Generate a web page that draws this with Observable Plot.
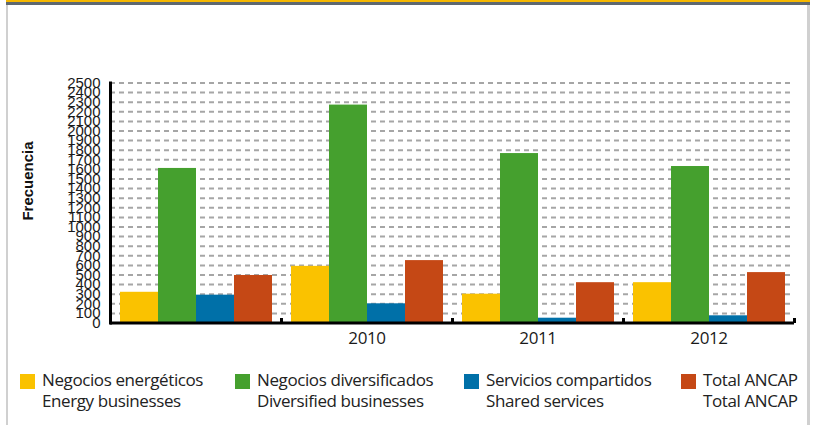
<!DOCTYPE html>
<html>
<head>
<meta charset="utf-8">
<script src="https://cdn.jsdelivr.net/npm/d3@7"></script>
<script src="https://cdn.jsdelivr.net/npm/@observablehq/plot@0.6"></script>
<style>
  html, body { margin: 0; padding: 0; background: #fff; }
  body { width: 814px; height: 425px; position: relative; overflow: hidden; font-family: "Open Sans", "Noto Sans", sans-serif; }
  #frame { position: absolute; left: 6px; top: 0; width: 804px; height: 425px; border-left: 2px solid #d0d0d0; border-right: 3px solid #d0d0d0; box-sizing: border-box; }
  #topgold { position: absolute; left: 6px; top: 0; width: 804px; height: 2px; background: #f6b800; }
  #topgray { position: absolute; left: 6px; top: 2px; width: 804px; height: 3px; background: #5e6870; }
  #chart { position: absolute; left: 0; top: 0; }
  #ytitle { position: absolute; left: 27px; top: 181px; transform: translate(-50%, -50%) rotate(-90deg); font: bold 15px "Liberation Sans", Arial, sans-serif; color: #111; white-space: nowrap; }
  .leg { position: absolute; top: 374px; }
  .leg .sw { position: absolute; left: 0; top: 0; width: 15px; height: 15px; }
  .leg .tx { position: absolute; left: 22px; top: -4px; font-size: 17px; line-height: 20.5px; letter-spacing: -0.4px; color: #222; white-space: nowrap; }
  #chart svg [aria-label="fx-axis tick label"] text { letter-spacing: -0.4px; }
</style>
</head>
<body>
<div id="frame"></div>
<div id="topgold"></div>
<div id="topgray"></div>
<div id="chart"></div>
<div id="ytitle">Frecuencia</div>
<div id="legend"></div>
<script>
// ---- data ----
const groups = ["", "2010", "2011", "2012"];
const seriesEs = ["Negocios energéticos", "Negocios diversificados", "Servicios compartidos", "Total ANCAP"];
const seriesEn = ["Energy businesses", "Diversified businesses", "Shared services", "Total ANCAP"];
const energy      = [320, 590, 300, 420];
const diversified = [1610, 2270, 1765, 1630];
const shared      = [290, 200, 50, 75];
const total       = [495, 650, 420, 525];
const colors = ["#fac200", "#45a02e", "#0070a8", "#c54815"];
const yTicks = [0, 100, 200, 300, 400, 500, 600, 700, 800, 900, 1000, 1100, 1200, 1300, 1400, 1500, 1600, 1700, 1800, 1900, 2000, 2100, 2200, 2300, 2400, 2500];
const gridValues = yTicks.filter(v => v > 0);

const seriesValues = [energy, diversified, shared, total];
const data = groups.flatMap((g, gi) => seriesEs.map((s, si) => ({group: g, series: s, value: seriesValues[si][gi]})));

const tickSymbol = { draw(ctx) { ctx.rect(-1.5, -5, 3, 5); } };

const chart = Plot.plot({
  width: 814,
  height: 350,
  marginLeft: 108,
  marginRight: 19,
  marginTop: 82.5,
  marginBottom: 27.5,
  style: { fontFamily: "'Liberation Sans', Arial, sans-serif", fontSize: "15px", color: "#1a1a1a", background: "transparent", overflow: "visible" },
  fx: { domain: groups, paddingInner: 0, paddingOuter: 0, label: null, axis: null },
  x: { domain: seriesEs, paddingInner: 0, paddingOuter: 0.207, axis: null },
  y: { domain: [0, 2500], axis: null },
  color: { domain: seriesEs, range: colors },
  marks: [
    Plot.ruleY(gridValues, { stroke: "#a6a6a6", strokeWidth: 2, strokeDasharray: "5,4" }),
    Plot.barY(data, { fx: "group", x: "series", y: "value", fill: "series" }),
    Plot.ruleY([0], { stroke: "#000", strokeWidth: 3 }),
    Plot.axisY(yTicks, { tickSize: 0, tickPadding: 10, fontSize: 15, label: null, tickFormat: d => String(d) }),
    Plot.axisFx({ anchor: "bottom", tickSize: 0, tickPadding: 8.5, fontSize: 17, label: null, fontFamily: "'Open Sans', sans-serif" }),
    Plot.frame({ anchor: "left", facetAnchor: "left", stroke: "#000", strokeWidth: 3 }),
    Plot.dot([0], { frameAnchor: "bottom-right", symbol: tickSymbol, fill: "#000", stroke: null })
  ]
});
document.getElementById("chart").appendChild(chart);

// ---- legend ----
const legendLeft = [20, 235, 464, 681];
const legend = document.getElementById("legend");
seriesEs.forEach((s, i) => {
  const item = document.createElement("div");
  item.className = "leg";
  item.style.left = legendLeft[i] + "px";
  item.innerHTML = `<div class="sw" style="background:${colors[i]}"></div><div class="tx">${s}<br>${seriesEn[i]}</div>`;
  legend.appendChild(item);
});
</script>
</body>
</html>
